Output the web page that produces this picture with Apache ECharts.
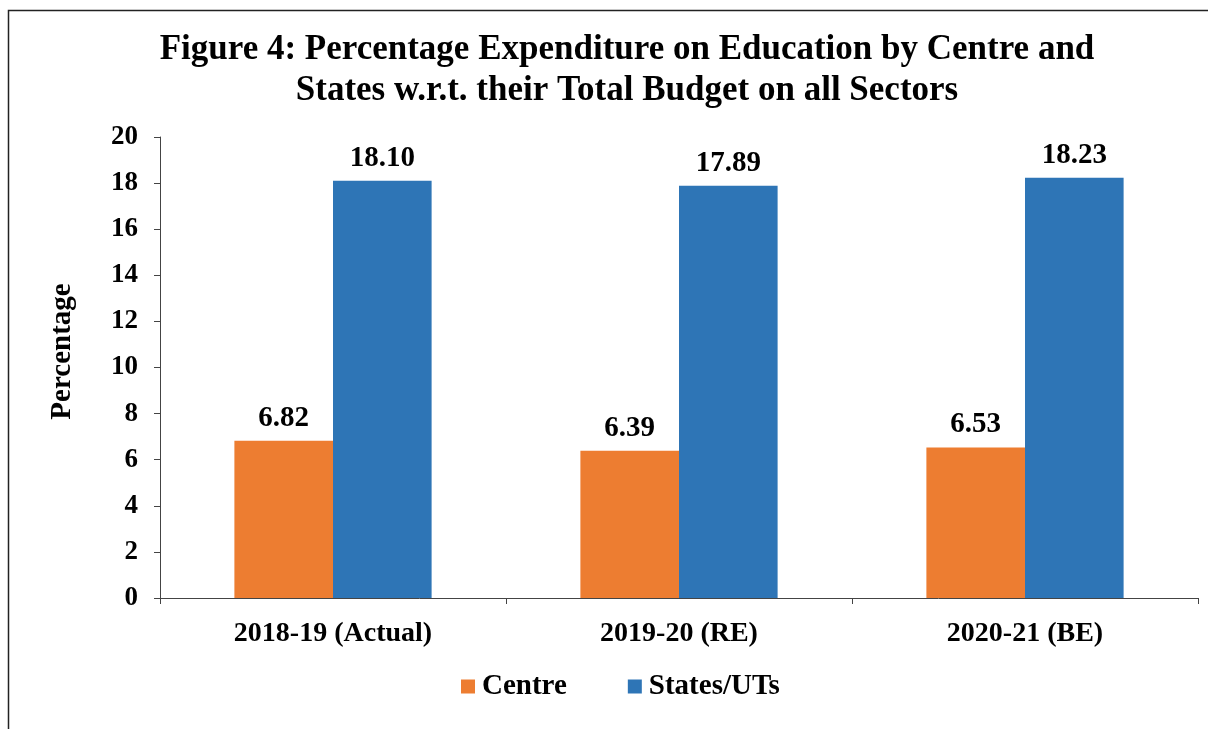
<!DOCTYPE html>
<html>
<head>
<meta charset="utf-8">
<script src="https://cdn.jsdelivr.net/npm/echarts@6/dist/echarts.min.js"></script>
<style>
  html, body { margin: 0; padding: 0; background: #fff; }
  #chart { width: 1208px; height: 729px; }
</style>
</head>
<body>
<div id="chart"></div>
<script>
// data
const years = ['2018-19 (Actual)', '2019-20 (RE)', '2020-21 (BE)'];
const centre = [6.82, 6.39, 6.53];
const states = [18.10, 17.89, 18.23];

const font = '"Liberation Serif", "Times New Roman", serif';

const chart = echarts.init(document.getElementById('chart'));
chart.setOption({
  animation: false,
  backgroundColor: '#fff',
  textStyle: { fontFamily: font },
  title: {
    text: 'Figure 4: Percentage Expenditure on Education by Centre and\nStates w.r.t. their Total Budget on all Sectors',
    left: 622,
    top: 24,
    textAlign: 'center',
    textStyle: { fontFamily: font, fontWeight: 'bold', fontSize: 35, lineHeight: 41, color: '#000' }
  },
  // frame around the figure (cut off on right/bottom like the scan)
  graphic: [{
    type: 'rect',
    shape: { x: 8.5, y: 10.5, width: 1400, height: 900 },
    style: { fill: null, stroke: '#222', lineWidth: 1.5 },
    silent: true
  }],
  legend: {
    bottom: 23,
    left: 456,
    itemWidth: 14,
    itemHeight: 14,
    itemGap: 61,
    icon: 'rect',
    textStyle: { fontFamily: font, fontWeight: 'bold', fontSize: 29, color: '#000', padding: [0, 0, 0, 2] },
    data: ['Centre', 'States/UTs']
  },
  grid: { left: 160, right: 10, top: 137, bottom: 131, containLabel: false },
  xAxis: {
    type: 'category',
    data: years,
    axisLine: { lineStyle: { color: '#444', width: 1 } },
    axisTick: { show: true, length: 6, lineStyle: { color: '#444' } },
    axisLabel: { fontFamily: font, fontWeight: 'bold', fontSize: 28, color: '#000', margin: 22 }
  },
  yAxis: {
    type: 'value',
    min: 0,
    max: 20,
    interval: 2,
    name: 'Percentage',
    nameLocation: 'middle',
    nameGap: 83,
    nameRotate: 90,
    nameTextStyle: { fontFamily: font, fontWeight: 'bold', fontSize: 29, color: '#000', padding: [0, 0, 0, 32] },
    axisLine: { show: true, lineStyle: { color: '#444', width: 1 } },
    axisTick: { show: true, length: 6, lineStyle: { color: '#444' } },
    splitLine: { show: false },
    axisLabel: { fontFamily: font, fontWeight: 'bold', fontSize: 27, color: '#000', margin: 22 }
  },
  series: [
    {
      name: 'Centre',
      type: 'bar',
      data: centre,
      barGap: '0%',
      barCategoryGap: '43%',
      itemStyle: { color: '#ED7D31' },
      label: {
        show: true, position: 'top', distance: 8,
        formatter: p => p.value.toFixed(2),
        fontFamily: font, fontWeight: 'bold', fontSize: 29, color: '#000'
      }
    },
    {
      name: 'States/UTs',
      type: 'bar',
      data: states,
      itemStyle: { color: '#2E75B6' },
      label: {
        show: true, position: 'top', distance: 8,
        formatter: p => p.value.toFixed(2),
        fontFamily: font, fontWeight: 'bold', fontSize: 29, color: '#000'
      }
    }
  ]
});
</script>
</body>
</html>
